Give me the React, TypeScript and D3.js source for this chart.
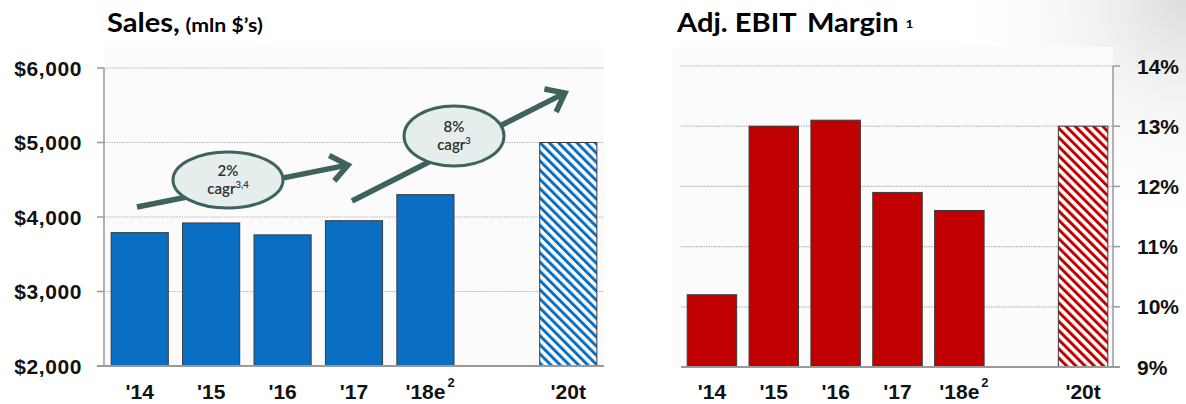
import React from "react";
import * as d3 from "d3";

// Fiscal-year slots; '19 is an empty slot that only provides the gap before the target year
const slots = ["'14", "'15", "'16", "'17", "'18e", "'19", "'20t"];
const actualYears = ["'14", "'15", "'16", "'17", "'18e"];
const targetYear = "'20t";

const salesValues = [3790, 3920, 3760, 3950, 4300];
const salesTarget = 5000;
const salesTicks = [2000, 3000, 4000, 5000, 6000];

const marginValues = [10.2, 13.0, 13.1, 11.9, 11.6];
const marginTarget = 13.0;
const marginTicks = [9, 10, 11, 12, 13, 14];

const W = 1186;
const H = 404;

const BLUE = "#0a6fc2";
const RED = "#c00000";
const ARROW = "#3e625e";
const AXIS = "#9a9a9a";
const LABEL_FONT = "'Liberation Sans', Arial, sans-serif";
const TITLE_FONT = "Lato, 'Open Sans', sans-serif";

const sx = d3.scaleBand<string>().domain(slots).range([104, 604]).paddingInner(0.2).paddingOuter(0.1);
const sy = d3.scaleLinear().domain([2000, 6000]).range([366, 68]);

const mx = d3.scaleBand<string>().domain(slots).range([681, 1114]).paddingInner(0.2).paddingOuter(0.1);
const my = d3.scaleLinear().domain([9, 14]).range([367, 66]);

const fmtDollar = (v: number) => "$" + d3.format(",")(v);
const fmtPct = (v: number) => v + "%";

function Arrow({ x1, y1, x2, y2 }: { x1: number; y1: number; x2: number; y2: number }) {
  const a = Math.atan2(y2 - y1, x2 - x1);
  const len = 21;
  const spread = (38 * Math.PI) / 180;
  const p1 = [x2 - len * Math.cos(a - spread), y2 - len * Math.sin(a - spread)];
  const p2 = [x2 - len * Math.cos(a + spread), y2 - len * Math.sin(a + spread)];
  const path = d3.path();
  path.moveTo(x1, y1);
  path.lineTo(x2 - 2 * Math.cos(a), y2 - 2 * Math.sin(a));
  path.moveTo(p1[0], p1[1]);
  path.lineTo(x2, y2);
  path.lineTo(p2[0], p2[1]);
  return (
    <path d={path.toString()} fill="none" stroke={ARROW} strokeWidth={5.5} strokeLinejoin="miter" strokeLinecap="butt" />
  );
}

function Bubble({ cx, cy, rx, ry, pct, sup }: { cx: number; cy: number; rx: number; ry: number; pct: string; sup: string }) {
  return (
    <g>
      <ellipse cx={cx} cy={cy} rx={rx} ry={ry} fill="#e6eded" stroke={ARROW} strokeWidth={3} />
      <text x={cx} y={cy - 4} textAnchor="middle" fontFamily={TITLE_FONT} fontWeight={600} fontSize={15} fill="#2e2e2e">
        {pct}
      </text>
      <text x={cx} y={cy + 14} textAnchor="middle" fontFamily={TITLE_FONT} fontWeight={600} fontSize={15} fill="#2e2e2e">
        cagr
        <tspan fontSize={9.5} dy={-6}>{sup}</tspan>
      </text>
    </g>
  );
}

function YearLabels({ x, ticks }: { x: d3.ScaleBand<string>; ticks: string[] }) {
  return (
    <g>
      {ticks.map((k) => {
        const cx = (x(k) as number) + x.bandwidth() / 2;
        return (
          <g key={k}>
            <text x={cx} y={399} textAnchor="middle" fontFamily={LABEL_FONT} fontWeight={700} fontSize={21} fill="#111">
              {k}
            </text>
            {k === "'18e" && (
              <text x={cx + 22} y={387} fontFamily={LABEL_FONT} fontWeight={700} fontSize={13} fill="#111">
                2
              </text>
            )}
          </g>
        );
      })}
    </g>
  );
}

export default function App() {
  const sBase = sy(2000);
  const mBase = my(9);
  return (
    <svg width={W} height={H} style={{ position: "absolute", left: 0, top: 0, background: "#fff" }}>
      <defs>
        <pattern id="hatchBlue" patternUnits="userSpaceOnUse" width={6.5} height={6.5} patternTransform="rotate(-45)">
          <rect width={6.5} height={6.5} fill="#fff" />
          <rect width={3} height={6.5} fill={BLUE} />
        </pattern>
        <pattern id="hatchRed" patternUnits="userSpaceOnUse" width={6.5} height={6.5} patternTransform="rotate(-45)">
          <rect width={6.5} height={6.5} fill="#fff" />
          <rect width={3} height={6.5} fill={RED} />
        </pattern>
        <radialGradient id="corner" cx={W} cy={0} r={240} gradientUnits="userSpaceOnUse">
          <stop offset="0" stopColor="#dcdcdc" />
          <stop offset="1" stopColor="#ffffff" stopOpacity={0} />
        </radialGradient>
      </defs>

      <rect width={W} height={H} fill="#fff" />
      <rect width={W} height={H} fill="url(#corner)" />
      <rect x={104} y={47} width={500} height={319} fill="#fbfbfc" />
      <rect x={673} y={47} width={440} height={320} fill="#fbfbfb" />

      {/* Sales panel */}
      <g transform="translate(107,32) scale(1.12,1)">
        <text fontFamily={TITLE_FONT} fontWeight={700} fontSize={26} fill="#000">
          Sales,
          <tspan fontSize={19} dx={5}>(mln $’s)</tspan>
        </text>
      </g>

      {salesTicks.map((t) => (
        <g key={t}>
          {t > 2000 && (
            <line x1={104} x2={604} y1={sy(t)} y2={sy(t)} stroke="#b8b8b8" strokeWidth={1.2} strokeDasharray="1.5,1" />
          )}
          <line x1={97} x2={104} y1={sy(t)} y2={sy(t)} stroke={AXIS} strokeWidth={1.5} />
          <text
            x={82}
            y={sy(t)}
            dy="0.36em"
            textAnchor="end"
            fontFamily={LABEL_FONT}
            fontWeight={700}
            fontSize={21}
            letterSpacing={0.6}
            fill="#111"
          >
            {fmtDollar(t)}
          </text>
        </g>
      ))}

      {actualYears.map((k, i) => (
        <rect
          key={k}
          x={sx(k)}
          y={sy(salesValues[i])}
          width={sx.bandwidth()}
          height={sBase - sy(salesValues[i])}
          fill={BLUE}
          stroke="#3a3a3a"
          strokeWidth={1}
        />
      ))}
      <rect
        x={sx(targetYear)}
        y={sy(salesTarget)}
        width={sx.bandwidth()}
        height={sBase - sy(salesTarget)}
        fill="url(#hatchBlue)"
        stroke="#3a3a3a"
        strokeWidth={1}
      />

      <line x1={104} x2={104} y1={sy(6000)} y2={sBase} stroke={AXIS} strokeWidth={1.5} />
      <line x1={97} x2={604} y1={sBase} y2={sBase} stroke={AXIS} strokeWidth={1.8} />
      <YearLabels x={sx} ticks={[...actualYears, targetYear]} />

      {/* growth arrows */}
      <Arrow x1={137} y1={207} x2={348} y2={165} />
      <Bubble cx={228} cy={180} rx={55} ry={28} pct="2%" sup="3,4" />
      <Arrow x1={352} y1={201} x2={565} y2={93} />
      <Bubble cx={454} cy={136} rx={50} ry={30} pct="8%" sup="3" />

      {/* Adj. EBIT margin panel */}
      <g transform="translate(677,32) scale(1.12,1)">
        <text fontFamily={TITLE_FONT} fontWeight={700} fontSize={26} fill="#000">
          Adj. EBIT
          <tspan dx={9}>Margin</tspan>
          <tspan fontSize={12} dx={6} dy={-4}>1</tspan>
        </text>
      </g>

      {marginTicks.map((t) => (
        <g key={t}>
          {t > 9 && (
            <line x1={681} x2={1113} y1={my(t)} y2={my(t)} stroke="#b8b8b8" strokeWidth={1.2} strokeDasharray="1.5,1" />
          )}
          <line x1={1113} x2={1120} y1={my(t)} y2={my(t)} stroke={AXIS} strokeWidth={1.5} />
          <text x={1137} y={my(t)} dy="0.36em" fontFamily={LABEL_FONT} fontWeight={700} fontSize={21} fill="#111">
            {fmtPct(t)}
          </text>
        </g>
      ))}

      {actualYears.map((k, i) => (
        <rect
          key={k}
          x={mx(k)}
          y={my(marginValues[i])}
          width={mx.bandwidth()}
          height={mBase - my(marginValues[i])}
          fill={RED}
          stroke="#3a3a3a"
          strokeWidth={1}
        />
      ))}
      <rect
        x={mx(targetYear)}
        y={my(marginTarget)}
        width={mx.bandwidth()}
        height={mBase - my(marginTarget)}
        fill="url(#hatchRed)"
        stroke="#3a3a3a"
        strokeWidth={1}
      />

      <line x1={1113} x2={1113} y1={my(14)} y2={mBase} stroke={AXIS} strokeWidth={1.5} />
      <line x1={681} x2={1120} y1={mBase} y2={mBase} stroke={AXIS} strokeWidth={1.8} />
      <YearLabels x={mx} ticks={[...actualYears, targetYear]} />
    </svg>
  );
}
